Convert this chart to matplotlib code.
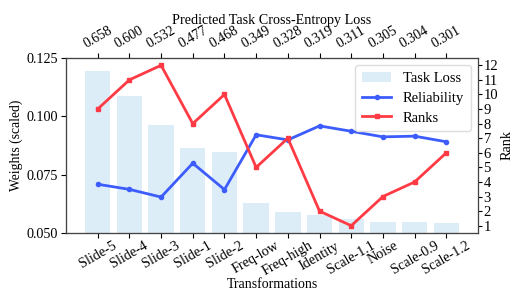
import matplotlib
matplotlib.use("Agg")
import matplotlib.pyplot as plt
import numpy as np

categories = ["Slide-5", "Slide-4", "Slide-3", "Slide-1", "Slide-2", "Freq-low",
              "Freq-high", "Identity", "Scale-1.1", "Noise", "Scale-0.9", "Scale-1.2"]
task_loss_weights = [0.1195, 0.1087, 0.0963, 0.0866, 0.0849, 0.0630,
                     0.0591, 0.0577, 0.0560, 0.0549, 0.0549, 0.0544]
reliability = [0.0709, 0.0687, 0.0654, 0.0799, 0.0686, 0.0921,
               0.0899, 0.0959, 0.0936, 0.0912, 0.0915, 0.0891]
ranks = [9, 11, 12, 8, 10, 5, 7, 2, 1, 3, 4, 6]
pred_loss_labels = ["0.658", "0.600", "0.532", "0.477", "0.468", "0.349",
                    "0.328", "0.319", "0.311", "0.305", "0.304", "0.301"]

plt.rcParams['font.family'] = ['Liberation Serif', 'DejaVu Serif']
plt.rcParams['font.size'] = 10

fig = plt.figure(figsize=(5.28, 3.08), dpi=100)
ax = fig.add_axes([66/528, 1-233/308, (478-66)/528, (233-58)/308])
x = np.arange(len(categories))

bar_color = "#ddedf8"
blue = "#3d5cfc"
red = "#fe3b44"

b = ax.bar(x, task_loss_weights, width=0.8, color=bar_color, label="Task Loss", zorder=1)
l1, = ax.plot(x, reliability, color=blue, lw=2, marker='o', ms=3, label="Reliability", zorder=3)
ax.set_ylim(0.05, 0.125)
ax.set_xlim(-1, 12)
ax.set_yticks([0.05, 0.075, 0.1, 0.125])
ax.set_yticklabels(["0.050", "0.075", "0.100", "0.125"], fontsize=10.2)
ax.set_ylabel("Weights (scaled)", fontsize=9.8, labelpad=3)
ax.set_xticks(x)
ax.set_xticklabels(categories, rotation=30, ha='center', fontsize=10.2)
ax.tick_params(axis='x', pad=1)
ax.tick_params(axis='y', pad=2)
ax.set_xlabel("Transformations", fontsize=10, labelpad=0)

ax2 = ax.twinx()
l2, = ax2.plot(x, ranks, color=red, lw=2, marker='s', ms=3.5, label="Ranks", zorder=3)
ax2.set_ylim(0.5, 12.5)
ax2.set_yticks(range(1, 13))
ax2.tick_params(axis='y', labelsize=10.5, pad=1, length=3)
ax2.set_ylabel("Rank", fontsize=10.2, labelpad=2)

ax3 = ax.twiny()
ax3.set_xlim(ax.get_xlim())
ax3.set_xticks(x)
ax3.set_xticklabels(pred_loss_labels, rotation=30, ha='center', fontsize=10)
ax3.tick_params(axis='x', pad=2)
ax3.set_xlabel("Predicted Task Cross-Entropy Loss", fontsize=10.2, labelpad=0)

for a in (ax, ax2, ax3):
    for s in a.spines.values():
        s.set_color("#444444")
ax2.spines['right'].set_color("#888888")

leg = ax2.legend(handles=[b, l1, l2], loc='upper right', fontsize=10.5,
                 framealpha=1, edgecolor="#dddddd", borderpad=0.45,
                 labelspacing=0.45, handlelength=2)
leg.set_zorder(10)

fig.savefig("out.png", dpi=100)
